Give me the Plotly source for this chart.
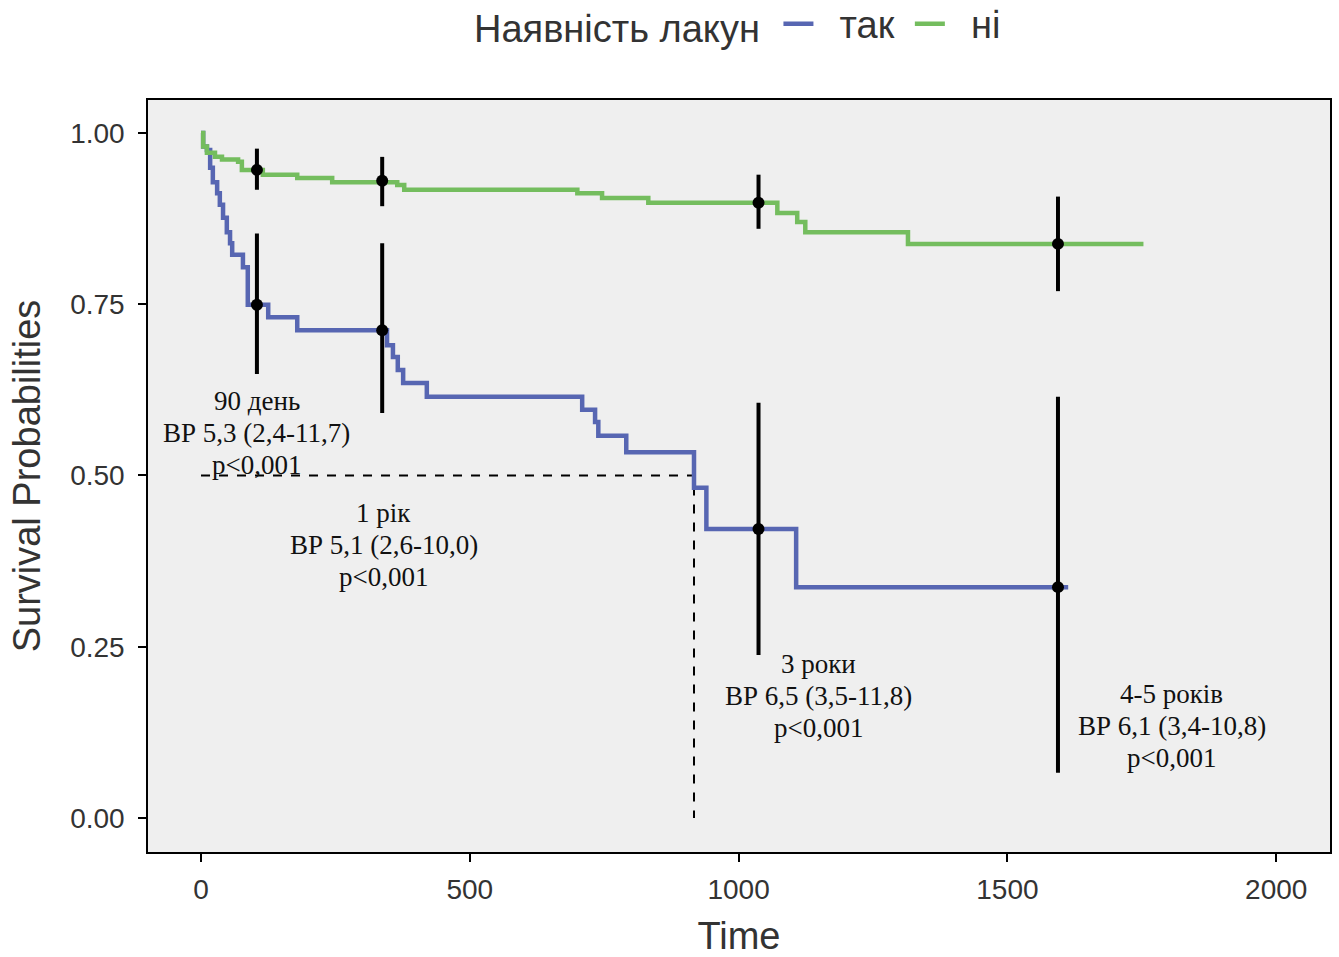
import plotly.graph_objects as go

# Kaplan-Meier step curves (time in days, survival probability after each step)
t_yes = [0, 4, 11, 17, 22, 30, 35, 41, 48, 54, 58, 78, 87, 125, 179, 346, 357, 366, 376,
         420, 709, 733, 739, 791, 917, 940, 1107, 1613]
s_yes = [1.0, 0.980, 0.975, 0.949, 0.928, 0.912, 0.895, 0.876, 0.855, 0.839, 0.822, 0.804,
         0.749, 0.731, 0.712, 0.690, 0.673, 0.654, 0.635, 0.615, 0.596, 0.578, 0.558, 0.534,
         0.482, 0.422, 0.337, 0.337]

t_no = [0, 4, 11, 26, 39, 69, 76, 115, 179, 244, 365, 378, 700, 746, 832, 1072, 1109,
        1124, 1315, 1753]
s_no = [1.0, 0.980, 0.971, 0.965, 0.961, 0.958, 0.946, 0.939, 0.934, 0.928, 0.924, 0.917,
        0.912, 0.905, 0.898, 0.883, 0.870, 0.855, 0.838, 0.838]

# Point estimates with confidence intervals at 90 days, 1 year, 3 years, 4-5 years
ci_t = [104, 337, 1037, 1594]
yes_est = [0.749, 0.712, 0.422, 0.337]
yes_lo = [0.648, 0.591, 0.238, 0.066]
yes_hi = [0.853, 0.839, 0.606, 0.615]
no_est = [0.946, 0.930, 0.898, 0.838]
no_lo = [0.917, 0.893, 0.860, 0.769]
no_hi = [0.977, 0.965, 0.939, 0.907]

# Median survival marker for the "так" group
median_t = 917
median_s = 0.5

# Hazard-ratio labels: anchor (time, probability) of the middle line of each block
ann_t = [104, 340, 1148, 1806]
ann_s = [0.562, 0.399, 0.178, 0.135]
ann_lines = [
    ["90 день", "ВР 5,3 (2,4-11,7)", "p<0,001"],
    ["1 рік", "ВР 5,1 (2,6-10,0)", "p<0,001"],
    ["3 роки", "ВР 6,5 (3,5-11,8)", "p<0,001"],
    ["4-5 років", "ВР 6,1 (3,4-10,8)", "p<0,001"],
]

group_names = ["так", "ні"]

blue = "#5766B2"
green = "#74BD5E"
text_col = "#333333"
pad = "\u00a0\u00a0"

fig = go.Figure()

# median reference lines
fig.add_trace(go.Scatter(x=[0, median_t, median_t], y=[median_s, median_s, 0],
                         mode="lines", line=dict(color="black", width=2, dash="dash"),
                         showlegend=False, hoverinfo="skip"))

fig.add_trace(go.Scatter(x=t_yes, y=s_yes, mode="lines", name=pad + group_names[0] + "\u00a0",
                         line=dict(color=blue, width=4.5, shape="hv")))
fig.add_trace(go.Scatter(x=t_no, y=s_no, mode="lines", name=pad + group_names[1],
                         line=dict(color=green, width=4.5, shape="hv")))

for est, lo, hi in [(yes_est, yes_lo, yes_hi), (no_est, no_lo, no_hi)]:
    fig.add_trace(go.Scatter(
        x=ci_t, y=est, mode="markers",
        marker=dict(color="black", size=12),
        error_y=dict(type="data", symmetric=False,
                     array=[h - e for h, e in zip(hi, est)],
                     arrayminus=[e - l for e, l in zip(est, lo)],
                     color="black", thickness=4, width=0),
        showlegend=False))

for tx, sy, lines in zip(ann_t, ann_s, ann_lines):
    for k, line in enumerate(lines):
        fig.add_annotation(x=tx, y=sy, text=line, showarrow=False, yshift=(1 - k) * 32,
                           font=dict(family="Liberation Serif", size=27, color="#111111"),
                           xanchor="center", yanchor="middle")

fig.update_layout(
    width=1339, height=957,
    margin=dict(l=148, r=9, t=100, b=105),
    paper_bgcolor="white",
    plot_bgcolor="#EFEFEF",
    font=dict(family="Liberation Sans", color=text_col),
    legend=dict(orientation="h", x=0.5, xanchor="center",
                yref="container", y=0.975, yanchor="middle",
                title=dict(text="Наявність лакун ", font=dict(size=38, color=text_col)),
                font=dict(size=38, color=text_col), itemwidth=30),
    xaxis=dict(range=[-98.6, 2100], tickvals=[0, 500, 1000, 1500, 2000],
               automargin=False,
               showgrid=False, zeroline=False, showline=True, linecolor="black",
               linewidth=1.5, mirror=True, ticks="outside", ticklen=8, tickwidth=2,
               tickcolor="black", tickfont=dict(size=28, color=text_col),
               ticklabelstandoff=4,
               title=dict(text="Time", font=dict(size=38, color=text_col), standoff=28)),
    yaxis=dict(range=[-0.0496, 1.048], tickvals=[0, 0.25, 0.5, 0.75, 1.0],
               tickformat=".2f", automargin=False,
               showgrid=False, zeroline=False, showline=True, linecolor="black",
               linewidth=1.5, mirror=True, ticks="outside", ticklen=8, tickwidth=2,
               tickcolor="black", tickfont=dict(size=28, color=text_col),
               ticklabelstandoff=8,
               title=dict(text="Survival Probabilities", font=dict(size=38, color=text_col),
                          standoff=18)),
)

fig.write_html("out.html")
